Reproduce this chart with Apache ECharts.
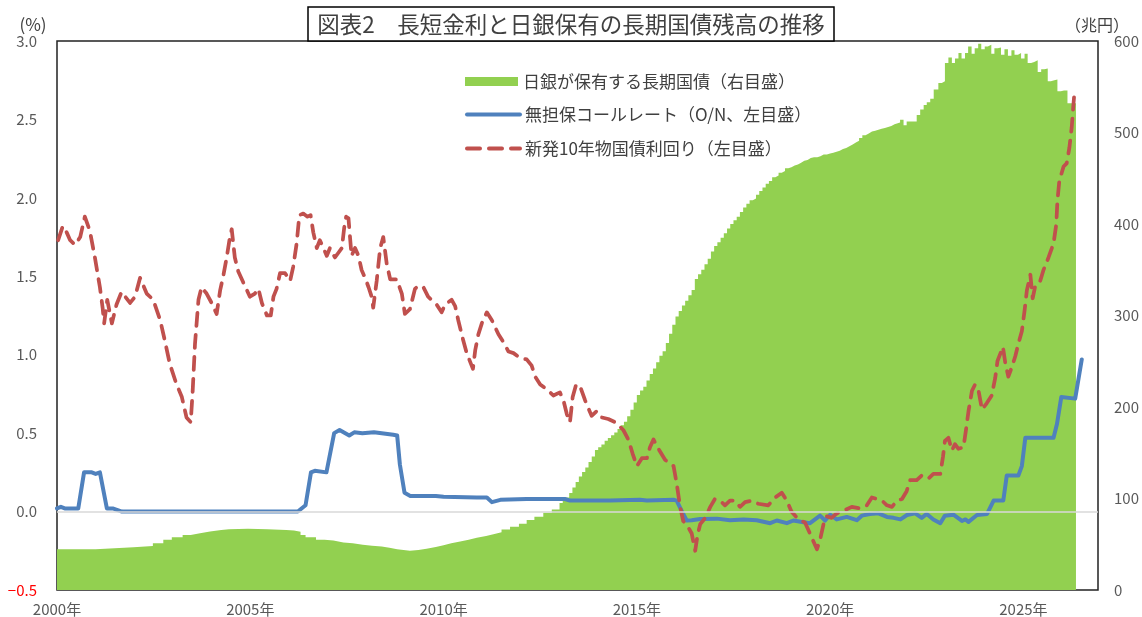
<!DOCTYPE html>
<html>
<head>
<meta charset="utf-8">
<title>長短金利と日銀保有の長期国債残高の推移</title>
<script src="https://cdn.jsdelivr.net/npm/echarts@6/dist/echarts.min.js"></script>
<style>
  html, body { margin: 0; padding: 0; background: #fff; }
  #chart { width: 1142px; height: 617px; }
</style>
</head>
<body>
<div id="chart"></div>
<script>
// 日銀が保有する長期国債（兆円、右目盛） 2000〜2012年は粗い読み取り
const bojEarlyDates = [2000.00, 2000.50, 2001.00, 2001.49, 2001.98, 2002.48, 2002.75, 2002.97, 2003.25, 2003.46,
  2003.70, 2003.96, 2004.25, 2004.45, 2004.94, 2005.44, 2005.93, 2006.13, 2006.30, 2006.43,
  2006.70, 2006.92, 2007.15, 2007.41, 2007.65, 2007.91, 2008.15, 2008.40, 2008.60, 2008.80,
  2009.13, 2009.35, 2009.56, 2009.80, 2010.00, 2010.20, 2010.43, 2010.65, 2010.86, 2011.10,
  2011.29, 2011.50, 2011.72, 2011.95, 2012.15, 2012.35, 2012.58, 2012.80];
const bojEarly = [44.5, 44.5, 45.5, 46.7, 48, 51, 55, 57.6, 60, 62,
  64, 65.6, 66.5, 67, 66.3, 65.6, 65, 63.7, 60, 57.6,
  55, 54, 52, 51, 49.5, 48.4, 47.5, 46.3, 44.5, 43,
  43.7, 45, 47, 49, 51, 53, 55, 57, 59, 61,
  63, 66, 69, 72.5, 76.5, 80, 84.5, 88];
// 2013年1月〜2021年9月（月次）
const bojMonthlyStart = 2013;
const bojMonthly = [
  95, 98, 101, 106, 112, 118, 124, 129, 134, 140, 146, 153,
  156, 159, 163, 166, 169, 172, 176, 180, 184, 190, 197, 205,
  213, 218, 222, 229, 236, 242, 249, 256, 261, 270, 280, 290,
  299, 305, 311, 316, 322, 328, 340, 345, 350, 356, 362, 370,
  376, 380, 385, 390, 395, 400, 404, 408, 413, 418, 422, 426,
  428, 432, 436, 440, 444, 447, 451, 453, 456, 458, 461, 462,
  464, 465, 467, 469, 470, 472, 473, 473, 474, 476, 476, 477,
  478, 479, 480, 482, 483, 485, 487, 489, 491, 494, 497, 499,
  501, 502, 503, 504, 505, 506, 507, 509, 511];
const bojLateDates = [2021.81, 2021.90, 2021.98, 2022.07, 2022.16, 2022.24, 2022.33, 2022.42, 2022.50, 2022.59,
  2022.68, 2022.80, 2022.89, 2022.97, 2023.06, 2023.15, 2023.23, 2023.32, 2023.40, 2023.49,
  2023.57, 2023.66, 2023.74, 2023.83, 2023.91, 2024.00, 2024.08, 2024.17, 2024.25, 2024.34,
  2024.42, 2024.51, 2024.60, 2024.69, 2024.77, 2024.86, 2024.94, 2025.03, 2025.11, 2025.20,
  2025.28, 2025.37, 2025.46, 2025.54, 2025.63, 2025.71, 2025.80, 2025.88, 2025.97, 2026.05,
  2026.14, 2026.22, 2026.36];
const bojLate = [514, 508, 512, 512, 512, 519, 525, 530, 533, 537,
  547, 554, 556, 576, 582, 576, 581, 587, 581, 587,
  594, 586, 592, 597, 591, 594, 596, 586, 592, 593,
  585, 591, 584, 590, 585, 587, 581, 586, 576, 577,
  579, 566, 569, 570, 556, 557, 558, 545, 546, 546,
  532, 532, 532];

// 無担保コールレート（O/N、%）
const callDates = [2000.00, 2000.10, 2000.20, 2000.55, 2000.70, 2000.90, 2001.00, 2001.11, 2001.29, 2001.44,
  2001.68, 2006.23, 2006.43, 2006.57, 2006.67, 2006.97, 2007.02, 2007.17, 2007.31, 2007.56,
  2007.69, 2007.90, 2008.20, 2008.70, 2008.80, 2008.87, 2008.99, 2009.14, 2009.80, 2010.00,
  2010.86, 2011.12, 2011.25, 2011.47, 2012.15, 2012.58, 2013.14, 2013.27, 2014.31, 2015.08,
  2015.26, 2015.95, 2016.03, 2016.16, 2016.29, 2016.42, 2016.64, 2017.07, 2017.41, 2017.76,
  2018.10, 2018.45, 2018.62, 2018.88, 2019.05, 2019.27, 2019.48, 2019.61, 2019.74, 2019.87,
  2020.00, 2020.17, 2020.43, 2020.69, 2020.82, 2021.03, 2021.25, 2021.47, 2021.64, 2021.82,
  2021.99, 2022.20, 2022.37, 2022.50, 2022.67, 2022.85, 2022.97, 2023.19, 2023.41, 2023.50,
  2023.58, 2023.80, 2024.06, 2024.23, 2024.48, 2024.57, 2024.87, 2024.96, 2025.05, 2025.78,
  2025.87, 2025.98, 2026.34, 2026.51];
const callRate = [0.02, 0.03, 0.02, 0.02, 0.25, 0.25, 0.24, 0.25, 0.02, 0.02,
  0.00, 0.00, 0.04, 0.25, 0.26, 0.25, 0.26, 0.50, 0.52, 0.485,
  0.505, 0.50, 0.505, 0.49, 0.485, 0.30, 0.12, 0.10, 0.10, 0.095,
  0.09, 0.09, 0.06, 0.075, 0.08, 0.08, 0.08, 0.07, 0.07, 0.075,
  0.07, 0.075, 0.07, 0.005, -0.057, -0.055, -0.047, -0.045, -0.055, -0.05,
  -0.055, -0.074, -0.057, -0.074, -0.057, -0.066, -0.074, -0.05, -0.026, -0.057,
  -0.02, -0.05, -0.034, -0.055, -0.026, -0.015, -0.011, -0.034, -0.04, -0.05,
  -0.022, -0.011, -0.04, -0.015, -0.05, -0.074, -0.026, -0.02, -0.06, -0.05,
  -0.066, -0.022, -0.015, 0.07, 0.07, 0.23, 0.23, 0.29, 0.47, 0.47,
  0.56, 0.73, 0.72, 0.97];

// 新発10年物国債利回り（%）
const yieldDates = [2000.03, 2000.15, 2000.25, 2000.34, 2000.47, 2000.60, 2000.72, 2000.85, 2000.98, 2001.11,
  2001.18, 2001.22, 2001.30, 2001.42, 2001.54, 2001.67, 2001.89, 2002.02, 2002.15, 2002.32,
  2002.49, 2002.67, 2002.79, 2002.92, 2003.08, 2003.23, 2003.35, 2003.46, 2003.51, 2003.57,
  2003.66, 2003.74, 2003.87, 2004.00, 2004.13, 2004.22, 2004.30, 2004.39, 2004.46, 2004.52,
  2004.60, 2004.69, 2004.82, 2004.99, 2005.12, 2005.21, 2005.30, 2005.43, 2005.53, 2005.60,
  2005.68, 2005.77, 2005.90, 2006.03, 2006.11, 2006.20, 2006.27, 2006.37, 2006.48, 2006.56,
  2006.63, 2006.72, 2006.80, 2006.89, 2006.98, 2007.06, 2007.19, 2007.28, 2007.37, 2007.43,
  2007.48, 2007.54, 2007.58, 2007.62, 2007.71, 2007.80, 2007.88, 2007.97, 2008.06, 2008.14,
  2008.18, 2008.27, 2008.36, 2008.44, 2008.53, 2008.62, 2008.79, 2008.92, 2009.00, 2009.13,
  2009.26, 2009.35, 2009.48, 2009.60, 2009.82, 2009.95, 2010.04, 2010.21, 2010.30, 2010.38,
  2010.51, 2010.60, 2010.76, 2010.82, 2010.90, 2010.99, 2011.12, 2011.25, 2011.42, 2011.55,
  2011.68, 2011.81, 2011.98, 2012.15, 2012.28, 2012.37, 2012.50, 2012.67, 2012.84, 2013.01,
  2013.10, 2013.19, 2013.27, 2013.34, 2013.43, 2013.53, 2013.66, 2013.83, 2013.96, 2014.09,
  2014.26, 2014.44, 2014.65, 2014.78, 2014.89, 2015.00, 2015.13, 2015.26, 2015.34, 2015.43,
  2015.56, 2015.73, 2015.95, 2016.03, 2016.12, 2016.20, 2016.33, 2016.42, 2016.51, 2016.57,
  2016.64, 2016.77, 2016.90, 2017.02, 2017.15, 2017.28, 2017.41, 2017.54, 2017.67, 2017.80,
  2017.97, 2018.14, 2018.40, 2018.58, 2018.75, 2018.88, 2019.00, 2019.18, 2019.35, 2019.48,
  2019.55, 2019.66, 2019.74, 2019.83, 2019.91, 2020.04, 2020.13, 2020.26, 2020.39, 2020.56,
  2020.78, 2020.95, 2021.08, 2021.21, 2021.34, 2021.47, 2021.60, 2021.73, 2021.86, 2021.98,
  2022.07, 2022.24, 2022.37, 2022.54, 2022.67, 2022.85, 2022.92, 2022.97, 2023.06, 2023.15,
  2023.23, 2023.32, 2023.45, 2023.52, 2023.58, 2023.67, 2023.75, 2023.84, 2023.93, 2024.05,
  2024.18, 2024.27, 2024.33, 2024.47, 2024.53, 2024.61, 2024.70, 2024.79, 2024.87, 2024.96,
  2025.03, 2025.09, 2025.18, 2025.24, 2025.30, 2025.41, 2025.52, 2025.65, 2025.78, 2025.85,
  2025.88, 2025.93, 2026.04, 2026.12, 2026.19, 2026.25, 2026.29, 2026.31];
const yield10y = [1.73, 1.82, 1.78, 1.73, 1.70, 1.75, 1.88, 1.79, 1.62, 1.43,
  1.30, 1.20, 1.35, 1.20, 1.32, 1.40, 1.33, 1.37, 1.49, 1.39,
  1.35, 1.22, 1.09, 0.94, 0.82, 0.73, 0.60, 0.57, 0.77, 1.07,
  1.35, 1.43, 1.39, 1.33, 1.26, 1.41, 1.50, 1.62, 1.73, 1.80,
  1.62, 1.53, 1.46, 1.37, 1.39, 1.42, 1.33, 1.25, 1.25, 1.37,
  1.42, 1.52, 1.52, 1.47, 1.56, 1.71, 1.89, 1.90, 1.88, 1.89,
  1.78, 1.68, 1.73, 1.68, 1.63, 1.68, 1.62, 1.65, 1.68, 1.81,
  1.88, 1.87, 1.75, 1.63, 1.68, 1.63, 1.54, 1.49, 1.43, 1.37,
  1.30, 1.47, 1.68, 1.75, 1.58, 1.48, 1.48, 1.39, 1.26, 1.29,
  1.42, 1.44, 1.43, 1.37, 1.32, 1.27, 1.32, 1.35, 1.31, 1.22,
  1.09, 1.01, 0.91, 1.03, 1.13, 1.20, 1.27, 1.22, 1.13, 1.08,
  1.02, 1.01, 0.98, 0.97, 0.93, 0.86, 0.81, 0.78, 0.74, 0.76,
  0.71, 0.62, 0.57, 0.73, 0.81, 0.80, 0.71, 0.61, 0.64, 0.60,
  0.59, 0.57, 0.52, 0.46, 0.37, 0.29, 0.34, 0.34, 0.41, 0.46,
  0.40, 0.33, 0.29, 0.18, 0.03, -0.06, -0.10, -0.14, -0.25, -0.15,
  -0.08, -0.04, 0.03, 0.08, 0.07, 0.04, 0.07, 0.07, 0.03, 0.06,
  0.07, 0.05, 0.04, 0.09, 0.12, 0.07, 0.00, -0.05, -0.07, -0.14,
  -0.18, -0.24, -0.18, -0.08, -0.03, -0.04, -0.02, 0.00, 0.01, 0.03,
  0.02, 0.04, 0.09, 0.08, 0.07, 0.04, 0.03, 0.07, 0.08, 0.13,
  0.20, 0.20, 0.23, 0.21, 0.24, 0.24, 0.35, 0.45, 0.47, 0.39,
  0.43, 0.40, 0.41, 0.53, 0.64, 0.77, 0.81, 0.77, 0.65, 0.69,
  0.74, 0.85, 0.96, 1.05, 0.95, 0.86, 0.92, 0.99, 1.07, 1.15,
  1.28, 1.41, 1.51, 1.36, 1.43, 1.45, 1.54, 1.62, 1.71, 1.83,
  1.98, 2.11, 2.20, 2.22, 2.32, 2.45, 2.58, 2.64];

const NAME_BOJ = '日銀が保有する長期国債（右目盛）';
const NAME_CALL = '無担保コールレート（O/N、左目盛）';
const NAME_JGB = '新発10年物国債利回り（左目盛）';
const FONT = '"Noto Sans CJK JP", "Noto Sans", sans-serif';

const zip = (xs, ys) => xs.map((x, i) => [x, ys[i]]);
const bojData = zip(bojEarlyDates, bojEarly)
  .concat(bojMonthly.map((v, i) => [bojMonthlyStart + i / 12, v]))
  .concat(zip(bojLateDates, bojLate));

const chart = echarts.init(document.getElementById('chart'));

const legendBase = {
  left: 460,
  orient: 'vertical',
  itemWidth: 53,
  itemHeight: 9,
  itemTextGap: 7,
  selectedMode: false,
  textStyle: { fontSize: 17, color: '#404040', fontFamily: FONT }
};
// 線の凡例は点を消して太線だけにする
const lineLegend = {
  itemHeight: 12,
  itemStyle: { opacity: 0 },
  lineStyle: { width: 4 }
};

chart.setOption({
  animation: false,
  backgroundColor: '#fff',
  title: {
    text: '図表2　長短金利と日銀保有の長期国債残高の推移',
    left: 'center',
    top: 7,
    padding: [6, 10, 6, 10],
    borderColor: '#000',
    borderWidth: 1.5,
    backgroundColor: '#fff',
    textStyle: { fontSize: 22.5, fontWeight: 'normal', color: '#404040', fontFamily: FONT }
  },
  legend: [
    Object.assign({ top: 68, data: [{ name: NAME_BOJ, icon: 'rect' }] }, legendBase),
    Object.assign({ top: 101, data: [NAME_CALL] }, legendBase, lineLegend),
    Object.assign({ top: 135, data: [NAME_JGB] }, legendBase, lineLegend)
  ],
  grid: {
    left: 57, right: 44, top: 41, bottom: 27,
    show: true, borderColor: '#222', borderWidth: 1.5, backgroundColor: 'transparent'
  },
  graphic: [
    { type: 'text', x: 33, y: 25, style: { text: '(%)', align: 'center', verticalAlign: 'middle',
      font: '17px ' + FONT, fill: '#404040' } },
    { type: 'text', x: 1097, y: 25, style: { text: '（兆円）', align: 'center', verticalAlign: 'middle',
      font: '16px ' + FONT, fill: '#404040' } }
  ],
  xAxis: {
    type: 'value',
    min: 2000,
    max: 2026.93,
    interval: 5,
    axisLine: { show: false },
    axisTick: { show: false },
    splitLine: { show: false },
    axisLabel: {
      formatter: v => v + '年',
      showMinLabel: true,
      showMaxLabel: false,
      margin: 12,
      fontSize: 15,
      color: '#595959',
      fontFamily: FONT
    }
  },
  yAxis: [
    {
      type: 'value',
      min: -0.5,
      max: 3,
      interval: 0.5,
      position: 'left',
      axisLine: { show: false },
      axisTick: { show: false },
      splitLine: { show: false },
      axisLabel: {
        formatter: v => (v < 0 ? '−' + Math.abs(v).toFixed(1) : v.toFixed(1)),
        color: v => (parseFloat(v) < 0 ? '#FF0000' : '#595959'),
        margin: 20,
        fontSize: 15,
        fontFamily: FONT
      }
    },
    {
      type: 'value',
      min: 0,
      max: 600,
      interval: 100,
      position: 'right',
      axisLine: { show: false },
      axisTick: { show: false },
      splitLine: { show: false },
      axisLabel: { margin: 16, fontSize: 15, color: '#595959', fontFamily: FONT }
    }
  ],
  series: [
    {
      name: NAME_BOJ,
      type: 'line',
      yAxisIndex: 1,
      step: 'end',
      symbol: 'none',
      data: bojData,
      itemStyle: { color: '#92D050' },
      lineStyle: { width: 0, color: '#92D050' },
      areaStyle: { color: '#92D050', opacity: 1 },
      z: 1,
      silent: true
    },
    {
      // 0%の横線
      type: 'line',
      yAxisIndex: 0,
      data: [[2000, 0]],
      symbol: 'none',
      lineStyle: { opacity: 0 },
      z: 2,
      silent: true,
      markLine: {
        silent: true,
        symbol: ['none', 'none'],
        label: { show: false },
        lineStyle: { color: '#D9D9D9', width: 1.5, type: 'solid' },
        data: [{ yAxis: 0 }]
      }
    },
    {
      name: NAME_CALL,
      type: 'line',
      yAxisIndex: 0,
      symbol: 'none',
      data: zip(callDates, callRate),
      itemStyle: { color: '#4F81BD' },
      lineStyle: { color: '#4F81BD', width: 4, cap: 'round', join: 'round' },
      z: 3
    },
    {
      name: NAME_JGB,
      type: 'line',
      yAxisIndex: 0,
      symbol: 'none',
      data: zip(yieldDates, yield10y),
      itemStyle: { color: '#C0504D' },
      lineStyle: { color: '#C0504D', width: 3.75, type: [13, 9], cap: 'round', join: 'round' },
      z: 4
    }
  ]
});
</script>
</body>
</html>
